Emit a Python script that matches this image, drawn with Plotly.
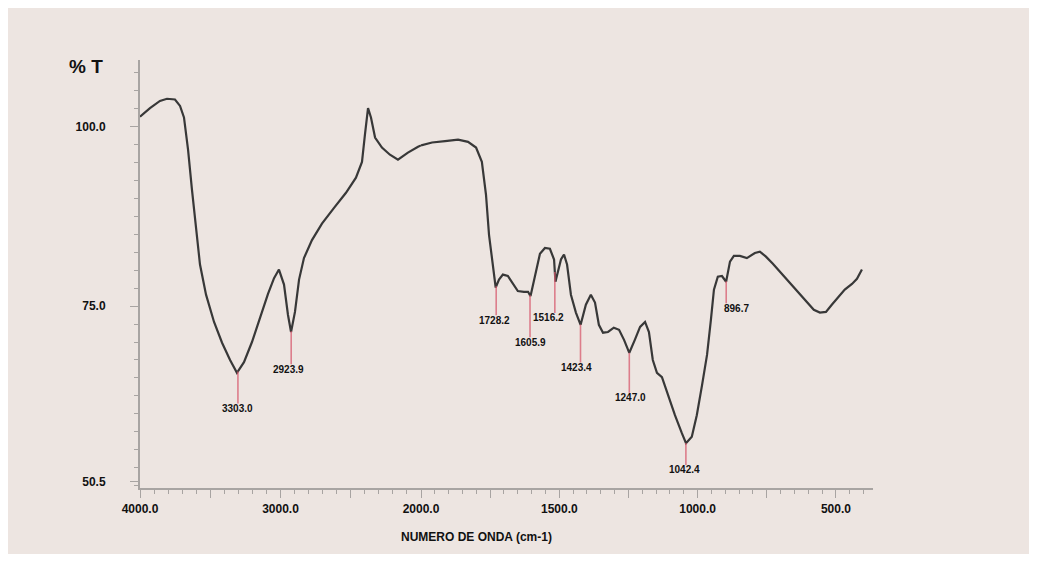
import numpy as np
import plotly.graph_objects as go

# ---------------- data ----------------
wavenumber = [4000, 3929, 3858, 3808, 3751, 3715, 3687, 3658, 3630, 3601,
              3573, 3530, 3473, 3416, 3359, 3310, 3260, 3203, 3146, 3089,
              3046, 3011, 2975, 2947, 2925, 2897, 2868, 2833, 2776, 2705,
              2619, 2534, 2463, 2420, 2399, 2377, 2356, 2327, 2278, 2221,
              2164, 2093, 2021, 2000, 1960, 1913, 1866, 1830, 1801, 1780,
              1765, 1754, 1743, 1730, 1718, 1704, 1686, 1668, 1650, 1628,
              1613, 1604, 1584, 1570, 1552, 1534, 1519, 1514, 1494, 1483,
              1472, 1458, 1440, 1423, 1404, 1386, 1371, 1357, 1342, 1324,
              1303, 1284, 1266, 1247, 1227, 1208, 1190, 1176, 1162, 1147,
              1129, 1107, 1082, 1057, 1042, 1021, 1003, 984, 966, 952,
              941, 927, 912, 897, 883, 869, 847, 822, 793, 775,
              753, 728, 703, 681, 656, 630, 601, 580, 558, 536,
              515, 493, 468, 442, 424, 406]
transmittance = [101.4, 102.6, 103.6, 103.9, 103.8, 102.9, 101.3, 96.8, 91.2, 85.6,
                 80.8, 76.6, 72.8, 69.9, 67.5, 65.7, 67.2, 70.0, 73.4, 76.7,
                 78.9, 80.1, 78.0, 73.8, 71.4, 74.2, 78.7, 81.7, 84.2, 86.5,
                 88.7, 90.8, 92.9, 95.1, 98.9, 102.6, 101.3, 98.5, 97.1, 96.1,
                 95.4, 96.4, 97.2, 97.4, 97.8, 98.0, 98.2, 97.9, 97.1, 95.1,
                 90.5, 84.9, 81.2, 77.6, 78.7, 79.4, 79.2, 78.2, 77.1, 77.0,
                 77.0, 76.4, 79.8, 82.3, 83.1, 83.0, 81.5, 78.4, 81.5, 82.2,
                 80.8, 76.6, 74.1, 72.4, 75.2, 76.6, 75.5, 72.4, 71.3, 71.4,
                 72.0, 71.7, 70.3, 68.5, 70.3, 72.1, 72.8, 71.4, 67.5, 65.7,
                 65.1, 62.6, 59.8, 57.3, 55.9, 56.8, 59.8, 64.0, 68.2, 73.1,
                 77.3, 79.1, 79.2, 78.4, 81.2, 82.0, 82.0, 81.7, 82.4, 82.6,
                 81.9, 80.9, 79.8, 78.9, 77.8, 76.7, 75.3, 74.5, 74.1, 74.2,
                 75.2, 76.2, 77.3, 78.1, 78.8, 80.1]

peak_wavenumbers = [3303.0, 2923.9, 1728.2, 1605.9, 1516.2, 1423.4, 1247.0, 1042.4, 896.7]
peak_labels = ["3303.0", "2923.9", "1728.2", "1605.9", "1516.2", "1423.4", "1247.0", "1042.4", "896.7"]

y_tick_values = [100.0, 75.0, 50.5]
y_tick_labels = ["100.0", "75.0", "50.5"]
x_left_ticks = [4000, 3500, 3000, 2500, 2000]
x_left_labels = ["4000.0", "", "3000.0", "", "2000.0"]
x_right_ticks = [1750, 1500, 1250, 1000, 750, 500]
x_right_labels = ["", "1500.0", "", "1000.0", "", "500.0"]

# ---------------- figure ----------------
# the page body puts the figure 8 px in from the top-left corner
OFF = 8
W, H = 1037 - OFF, 562 - OFF
BG = "rgb(237,229,225)"
FONT = "Liberation Sans, Arial, sans-serif"

def px(x):
    return (x - OFF) / W

def py(y):
    return 1 - (y - OFF) / H

w_arr = np.array(wavenumber, dtype=float)
t_arr = np.array(transmittance, dtype=float)
left = w_arr >= 2000
right = w_arr <= 2000

fig = go.Figure()
line_style = dict(color="#383838", width=2.2)
fig.add_trace(go.Scatter(x=w_arr[left], y=t_arr[left], mode="lines", line=line_style,
                         xaxis="x", yaxis="y", showlegend=False, hoverinfo="x+y"))
fig.add_trace(go.Scatter(x=w_arr[right], y=t_arr[right], mode="lines", line=line_style,
                         xaxis="x2", yaxis="y", showlegend=False, hoverinfo="x+y"))

axis_common = dict(showline=True, linecolor="#a8a4a2", linewidth=2, showgrid=False,
                   zeroline=False, ticks="outside", ticklen=8, tickwidth=1,
                   tickcolor="#a8a4a2", tickfont=dict(family=FONT, size=12, color="#111"),
                   ticklabelstandoff=1, automargin=False)

fig.update_layout(
    width=W, height=H,
    paper_bgcolor=BG, plot_bgcolor=BG,
    margin=dict(l=0, r=0, t=0, b=0, pad=0, autoexpand=False),
    xaxis=dict(domain=[px(140), px(421)], range=[4000, 2000], anchor="y",
               tickmode="array", tickvals=x_left_ticks,
               ticktext=["<b>%s</b>" % t for t in x_left_labels],
               minor=dict(dtick=100, tick0=0, ticklen=4, ticks="outside", tickcolor="#a8a4a2"),
               **axis_common),
    xaxis2=dict(domain=[px(421), px(873)], range=[2000, 366], anchor="y",
                tickmode="array", tickvals=x_right_ticks,
                ticktext=["<b>%s</b>" % t for t in x_right_labels],
                minor=dict(dtick=50, tick0=0, ticklen=4, ticks="outside", tickcolor="#a8a4a2"),
                **axis_common),
    yaxis=dict(domain=[py(488), py(60)], range=[49.66, 109.3], anchor="x",
               tickmode="array", tickvals=y_tick_values,
               ticktext=["<b>%s</b>" % t for t in y_tick_labels],
               minor=dict(dtick=2.5, tick0=0, ticklen=4, ticks="outside", tickcolor="#a8a4a2"),
               **{**axis_common, "ticklabelstandoff": 22}),
)

# white strip on the right / bottom edge of the panel
fig.add_shape(type="rect", xref="paper", yref="paper", x0=px(1029), x1=1.02,
              y0=-0.02, y1=1.02, fillcolor="white", line=dict(width=0), layer="below")
fig.add_shape(type="rect", xref="paper", yref="paper", x0=-0.02, x1=1.02,
              y0=-0.02, y1=py(554), fillcolor="white", line=dict(width=0), layer="below")

# peak markers
drop_px = [37, 38, 34, 47, 46, 43, 45, 27, 27]
label_dx = [0, -3, -2, 0, -6, -4, 1, -1, 10]
w_sorted = w_arr[::-1]
t_sorted = t_arr[::-1]
for wn, lab, d, dx in zip(peak_wavenumbers, peak_labels, drop_px, label_dx):
    tp = float(np.interp(wn, w_sorted, t_sorted))
    xr = "x" if wn >= 2000 else "x2"
    fig.add_shape(type="line", xref=xr, yref="y", ysizemode="pixel", yanchor=tp,
                  x0=wn, x1=wn, y0=0, y1=-(d - 5),
                  line=dict(color="rgba(215,90,110,0.75)", width=1.6))
    fig.add_annotation(x=wn, y=tp, xref=xr, yref="y", yshift=-d, xshift=dx,
                       xanchor="center", yanchor="middle",
                       text="<b>%s</b>" % lab, showarrow=False,
                       font=dict(family=FONT, size=10, color="#111"))

# axis captions
fig.add_annotation(x=px(86), y=py(66), xref="paper", yref="paper", text="<b>% T</b>",
                   xanchor="center", yanchor="middle",
                   showarrow=False, font=dict(family=FONT, size=19, color="#111"))
fig.add_annotation(x=px(476), y=py(537), xref="paper", yref="paper",
                   text="<b>NUMERO DE ONDA (cm-1)</b>",
                   xanchor="center", yanchor="middle",
                   showarrow=False, font=dict(family=FONT, size=12, color="#111"))

fig.write_html("out.html")
